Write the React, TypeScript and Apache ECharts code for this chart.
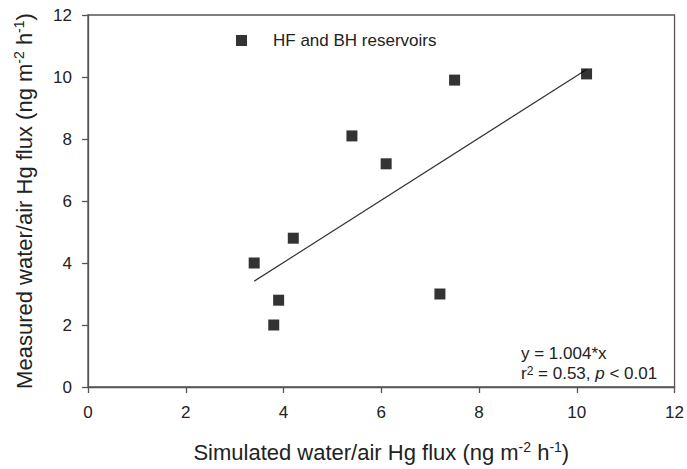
import React, { useEffect, useRef } from "react";
import * as echarts from "echarts";

const seriesName = "HF and BH reservoirs";
const simulated = [3.4, 3.8, 3.9, 4.2, 5.4, 6.1, 7.2, 7.5, 10.2];
const measured = [4.0, 2.0, 2.8, 4.8, 8.1, 7.2, 3.0, 9.9, 10.1];
const fitRangeX = [3.4, 10.2];
const fitSlope = 1.004;
const xTicks = [0, 2, 4, 6, 8, 10, 12];
const yTicks = [0, 2, 4, 6, 8, 10, 12];

const FONT = "'Liberation Sans', Arial, sans-serif";
const TEXT = "#222";
const AXIS = "#555";

export default function App() {
  const ref = useRef<HTMLDivElement>(null);
  useEffect(() => {
    if (!ref.current) return;
    document.body.style.margin = "0";
    document.body.style.overflow = "hidden";
    const chart = echarts.init(ref.current, undefined, { renderer: "svg" });
    const fitData = fitRangeX.map((x) => [x, +(x * fitSlope).toFixed(3)]);
    const scatterData = simulated.map((x, i) => [x, measured[i]]);
    const supRich = {
      sup: { fontSize: 14, lineHeight: 12, verticalAlign: "top", color: TEXT, fontFamily: FONT },
    };
    chart.setOption({
      animation: false,
      backgroundColor: "#fff",
      grid: {
        left: 88,
        right: 9,
        top: 15,
        bottom: 77,
        show: true,
        borderColor: AXIS,
        borderWidth: 1.3,
        containLabel: false,
      },
      legend: {
        show: true,
        left: 231,
        top: 27,
        data: [{ name: seriesName, icon: "rect" }],
        itemWidth: 11,
        itemHeight: 11,
        textStyle: { fontSize: 17, color: TEXT, fontFamily: FONT, padding: [0, 0, 0, 21] },
      },
      xAxis: {
        type: "value",
        min: xTicks[0],
        max: xTicks[xTicks.length - 1],
        interval: 2,
        name: "Simulated water/air Hg flux (ng m{sup|-2} h{sup|-1})",
        nameLocation: "middle",
        nameGap: 53,
        nameTextStyle: {
          fontSize: 22,
          color: TEXT,
          fontFamily: FONT,
          lineHeight: 24,
          rich: supRich,
        },
        axisLine: { show: true, lineStyle: { color: AXIS, width: 1.3 } },
        axisTick: { show: true, inside: false, length: 6, lineStyle: { color: AXIS, width: 1.3 } },
        axisLabel: { fontSize: 17, color: TEXT, fontFamily: FONT, margin: 17 },
        splitLine: { show: false },
      },
      yAxis: {
        type: "value",
        min: yTicks[0],
        max: yTicks[yTicks.length - 1],
        interval: 2,
        name: "Measured water/air Hg flux (ng m{sup|-2} h{sup|-1})",
        nameLocation: "middle",
        nameGap: 52,
        nameTextStyle: {
          fontSize: 22,
          color: TEXT,
          fontFamily: FONT,
          lineHeight: 24,
          rich: supRich,
        },
        axisLine: { show: true, lineStyle: { color: AXIS, width: 1.3 } },
        axisTick: { show: true, inside: false, length: 6, lineStyle: { color: AXIS, width: 1.3 } },
        axisLabel: { fontSize: 17, color: TEXT, fontFamily: FONT, margin: 16 },
        splitLine: { show: false },
      },
      series: [
        {
          name: "fit",
          type: "line",
          data: fitData,
          showSymbol: false,
          symbol: "none",
          lineStyle: { color: "#333", width: 1.2 },
          z: 1,
        },
        {
          name: seriesName,
          type: "scatter",
          data: scatterData,
          symbol: "rect",
          symbolSize: 11,
          itemStyle: { color: "#000" },
          z: 2,
        },
      ],
      graphic: [
        {
          type: "text",
          left: 521,
          top: 345,
          style: {
            text: "y = 1.004*x",
            font: `17px ${FONT}`,
            fill: TEXT,
          },
        },
        {
          type: "text",
          left: 521,
          top: 365,
          style: {
            text: "r{sup|2} = 0.53, {it|p} < 0.01",
            font: `17px ${FONT}`,
            fill: TEXT,
            rich: {
              sup: { fontSize: 12, lineHeight: 8, verticalAlign: "top", fill: TEXT, fontFamily: FONT },
              it: { fontSize: 17, fontStyle: "italic", fill: TEXT, fontFamily: FONT },
            },
          },
        },
      ],
    });
    return () => chart.dispose();
  }, []);
  return <div ref={ref} style={{ width: 687, height: 469, position: "absolute", left: 0, top: 0 }} />;
}
